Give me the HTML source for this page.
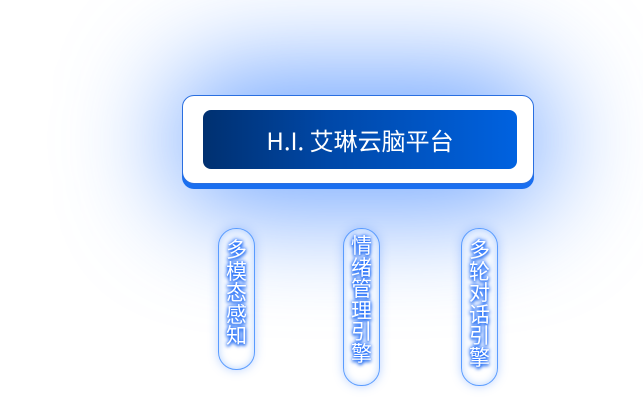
<!DOCTYPE html>
<html><head><meta charset="utf-8"><style>
html,body{margin:0;padding:0;background:#fff;}
body{width:643px;height:408px;position:relative;overflow:hidden;font-family:"Liberation Sans","Noto Sans CJK SC",sans-serif;}
.halo{position:absolute;left:170px;top:70px;width:380px;height:140px;border-radius:60px;background:rgba(50,125,255,0.7);filter:blur(55px);}
.outer{position:absolute;left:182px;top:95px;width:350px;height:87px;background:#fff;border:1px solid #2a6fe0;border-radius:12px;box-shadow:0 5px 0 #1a6ff0;}
.inner{position:absolute;left:203px;top:110px;width:314px;height:59px;border-radius:8px;
background:linear-gradient(90deg,#003070 0%,#0048a8 40%,#0062e0 100%);color:#fff;font-size:24px;text-align:center;line-height:59px;font-family:"Noto Sans CJK SC",sans-serif;}
.pill{position:absolute;width:35px;border:1px solid #5a9cff;border-radius:18px;background:rgba(255,255,255,0.55);
box-shadow:0 0 10px rgba(60,130,255,0.35), inset 0 0 8px rgba(80,150,255,0.4);color:#fff;font-size:21px;line-height:21.5px;text-align:center;font-family:"Noto Sans CJK SC",sans-serif;
text-shadow:0 0 3px #1a6bff,0 0 6px #1a6bff,0 2px 3px #0050e0;box-sizing:content-box;}
.pill div{padding-top:10px}
</style></head><body>
<div class="halo"></div>
<div class="outer"></div>
<div class="inner">H.I. 艾琳云脑平台</div>
<div class="pill" style="left:218px;top:228px;height:140px"><div>多<br>模<br>态<br>感<br>知</div></div>
<div class="pill" style="left:343px;top:228px;height:156px"><div style="padding-top:6px">情<br>绪<br>管<br>理<br>引<br>擎</div></div>
<div class="pill" style="left:461px;top:228px;height:156px"><div style="padding-top:10px">多<br>轮<br>对<br>话<br>引<br>擎</div></div>
</body></html>
